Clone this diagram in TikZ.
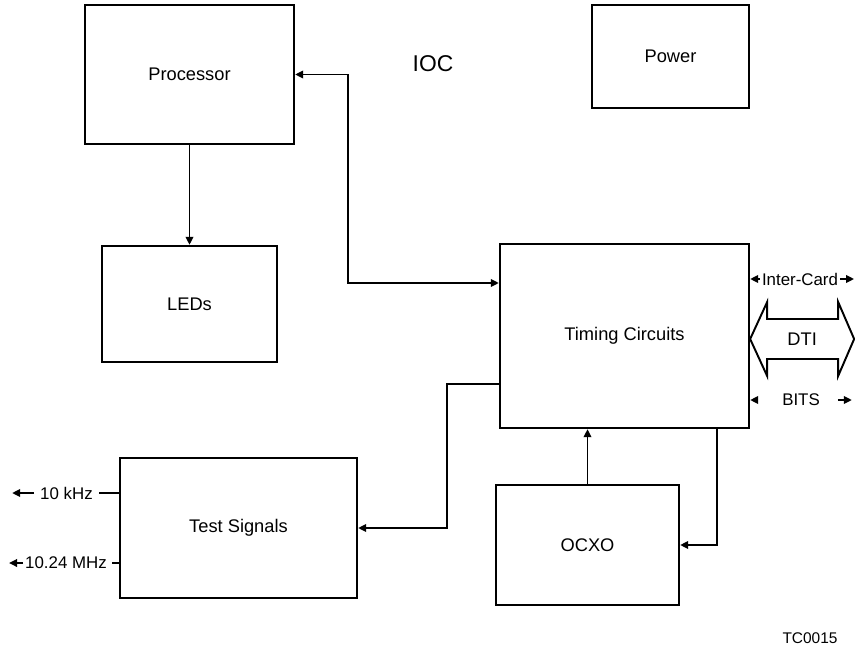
\documentclass[tikz,border=0pt]{standalone}
\usepackage{fontspec}
\setmainfont{Liberation Sans}
\usetikzlibrary{arrows.meta, positioning, calc}

\begin{document}
\begin{tikzpicture}[
    >={Triangle[length=1.6mm, width=1.5mm]},
    blockbox/.style={draw, line width=1.3pt, inner sep=0pt, font=\fontsize{10.4}{12}\selectfont},
    sidelabel/.style={inner sep=1pt, font=\fontsize{9.6}{11}\selectfont},
    link/.style={line width=1.1pt}
]
\useasboundingbox (0,0) rectangle (17.1,-12.94);

% Top row: Processor, title, Power
\node[blockbox, minimum width=4.18cm, minimum height=2.78cm] (proc) at (3.79,-1.49) {Processor};
\node[font=\fontsize{13}{15}\selectfont] (ioc) at (8.66,-1.28) {IOC};
\node[blockbox, minimum width=3.14cm, minimum height=2.06cm] (pwr) at (13.41,-1.13) {Power};

% LEDs below Processor
\node[blockbox, minimum width=3.5cm, minimum height=2.32cm] (leds) at (3.79,-6.08) {LEDs};

% Timing Circuits (right middle)
\node[blockbox, minimum width=4.98cm, minimum height=3.68cm] (tim) at (12.49,-6.72) {Timing Circuits};

% Bottom row: Test Signals, OCXO
\node[blockbox, minimum width=4.74cm, minimum height=2.8cm] (test) at (4.77,-10.56) {Test Signals};
\node[blockbox, minimum width=3.66cm, minimum height=2.4cm] (ocxo) at (11.75,-10.9) {OCXO};

% Links between blocks
\draw[link, ->] (proc.south) -- (leds.north);
\draw[link, <->] (proc.east) -- ++(1.06,0) |- ([yshift=1.06cm]tim.west);
\draw[link, ->] ([yshift=-0.96cm]tim.west) -- ++(-1.04,0) |- (test.east);
\draw[link, ->] (ocxo.north) -- (ocxo.north |- tim.south);
\draw[link, ->] ([xshift=1.85cm]tim.south) |- (ocxo.east);

% Inter-Card
\node[sidelabel] (icard) at (16.0,-5.58) {Inter-Card};
\draw[link, ->] (icard.west) -- (icard.west -| tim.east);
\draw[link, ->] (icard.east) -- ++(0.28,0);

% DTI - outlined double arrow
\coordinate (dti) at ([yshift=-0.06cm]tim.east);
\draw[link] (dti) -- ++(0.34,0.74) -- ++(0,-0.34) -- ++(1.42,0) -- ++(0,0.34)
    -- ++(0.32,-0.74) -- ++(-0.32,-0.74) -- ++(0,0.34) -- ++(-1.42,0) -- ++(0,-0.34) -- cycle;
\node[font=\fontsize{10.4}{12}\selectfont] (dtilbl) at ($(dti)+(1.04,0)$) {DTI};

% BITS
\node[sidelabel] (bits) at (16.02,-8.0) {BITS};
\draw[link, ->] ([xshift=-0.48cm]bits.west) -- (bits.west -| tim.east);
\draw[link, ->] ([xshift=0.32cm]bits.east) -- ++(0.28,0);

% Test outputs (left)
\node[sidelabel, anchor=east] (khz) at ([xshift=-0.48cm, yshift=0.7cm]test.west) {10 kHz};
\draw[link] ([yshift=0.7cm]test.west) -- ++(-0.4,0);
\draw[link, ->] ([xshift=-0.08cm]khz.west) -- ++(-0.44,0);
\node[sidelabel, anchor=east] (mhz) at ([xshift=-0.2cm, yshift=-0.7cm]test.west) {10.24 MHz};
\draw[link] ([yshift=-0.7cm]test.west) -- ++(-0.14,0);
\draw[link, ->] (mhz.west) -- ++(-0.28,0);

% Figure tag
\node[font=\fontsize{8.8}{10}\selectfont] (tc) at (16.2,-12.76) {TC0015};
\end{tikzpicture}
\end{document}
